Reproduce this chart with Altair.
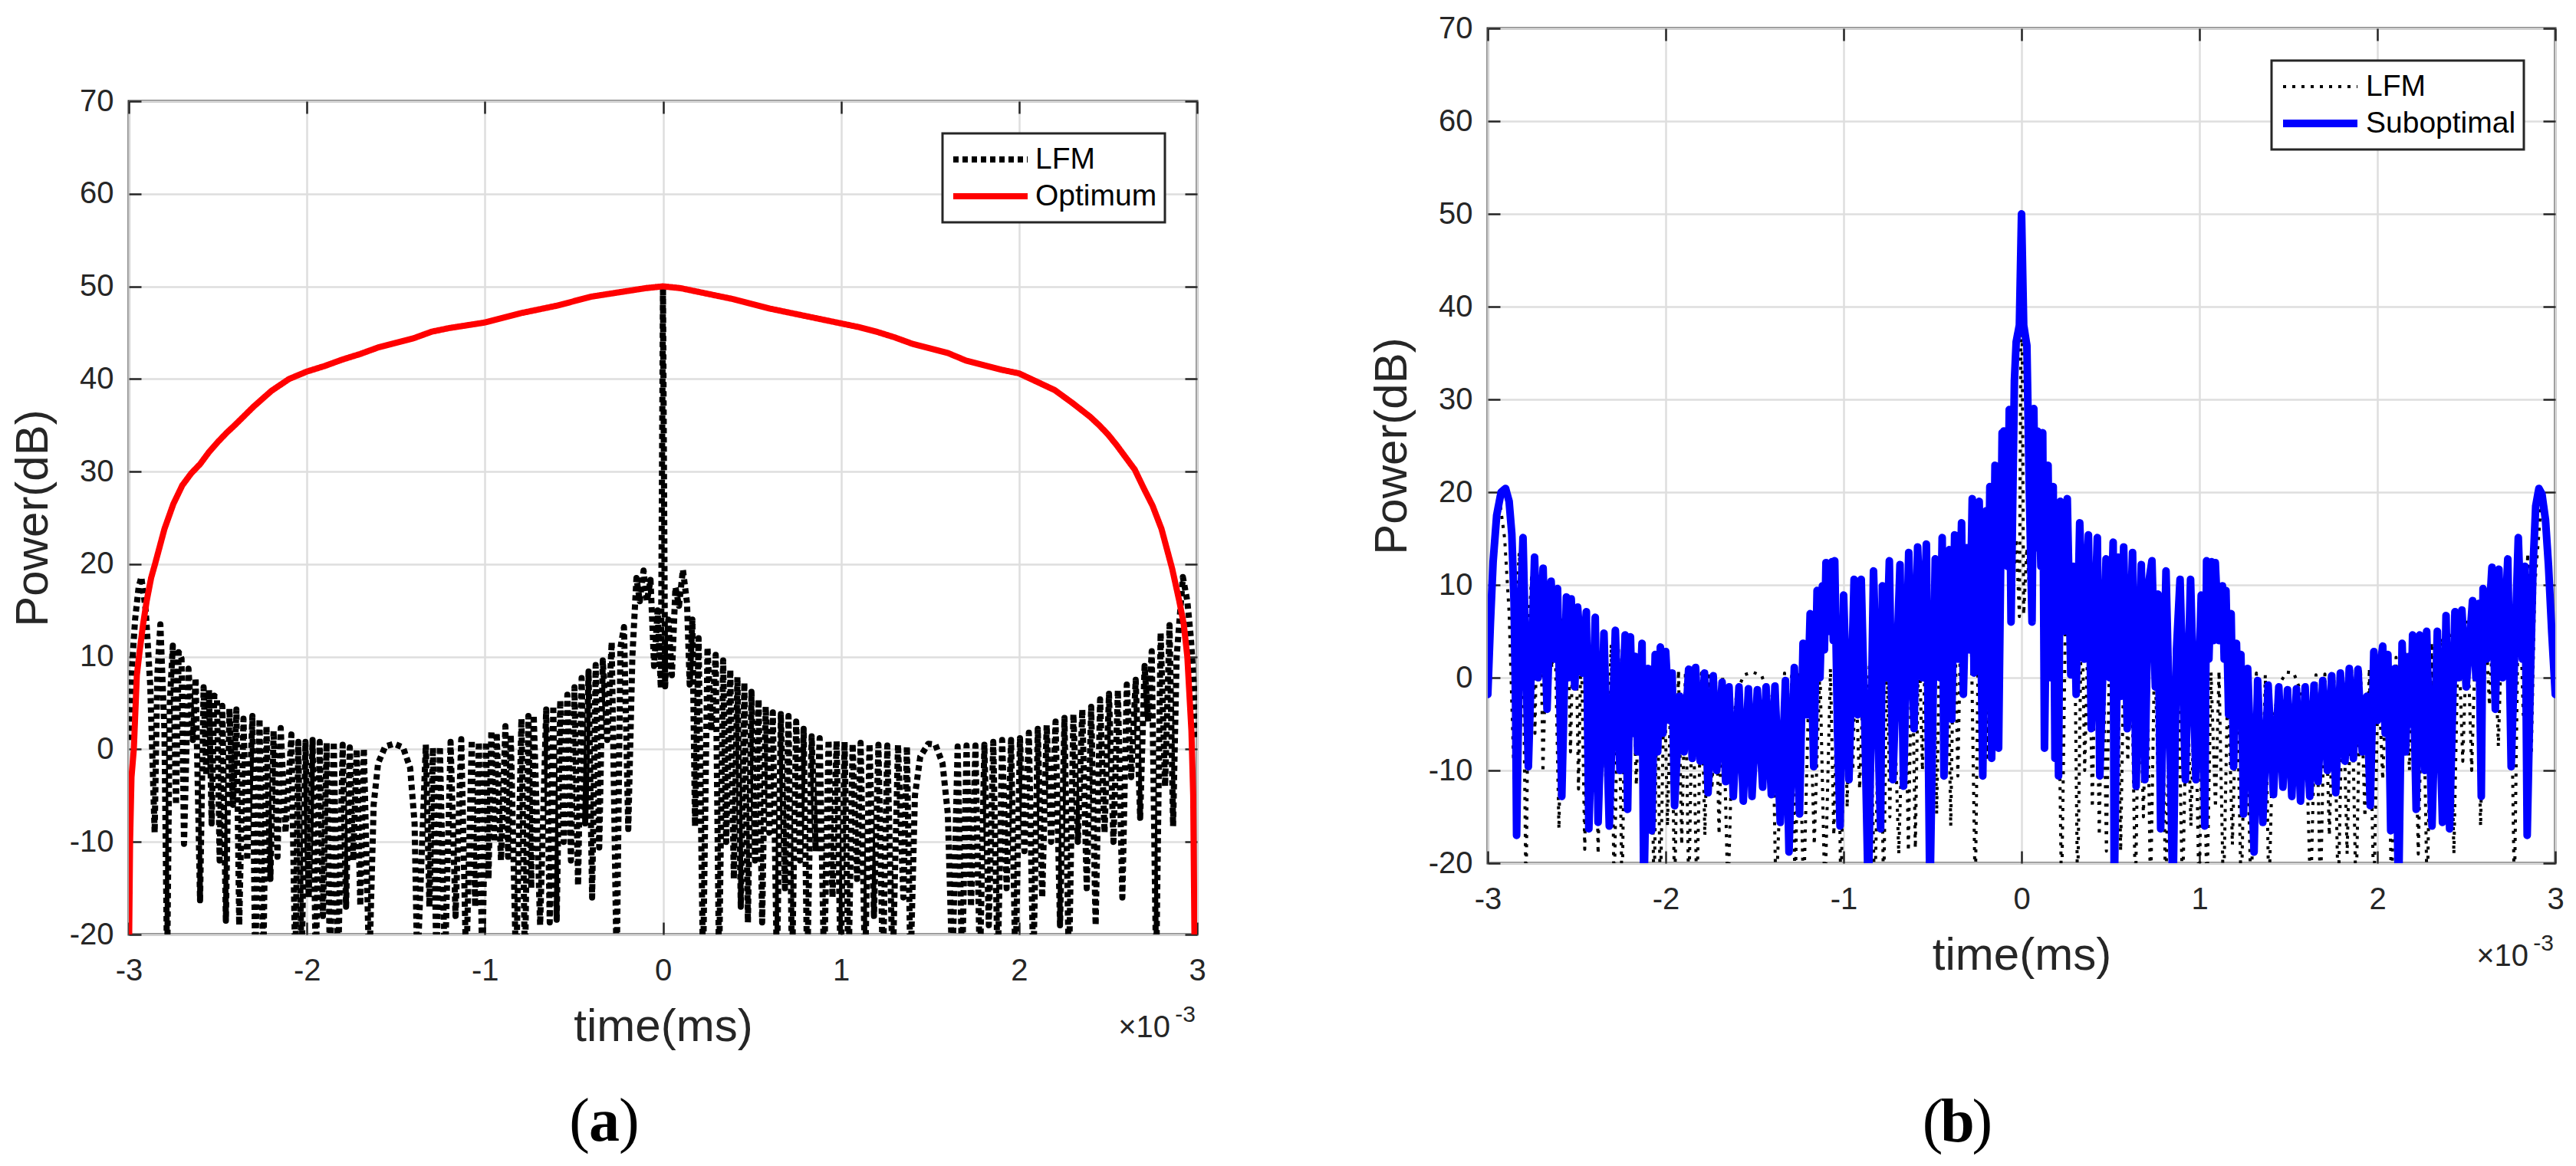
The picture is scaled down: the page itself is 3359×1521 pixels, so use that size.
import altair as alt
import pandas as pd

FONT = "Liberation Sans"
SERIF = "Liberation Serif"
INK = "#262626"
GRID = "#dedede"

# ---------------- data ----------------
x_ticks = [-3, -2, -1, 0, 1, 2, 3]
y_ticks = [-20, -10, 0, 10, 20, 30, 40, 50, 60, 70]
x_domain = [-3, 3]
y_domain = [-20, 70]

# LFM matched-filter output (time in units of 1e-3, power in dB), t <= 0
lfm_t_neg = [-3.000, -2.985, -2.965, -2.945, -2.930, -2.905, -2.880, -2.855, -2.840, -2.823,
             -2.800, -2.785, -2.770, -2.753, -2.735, -2.720, -2.704, -2.690, -2.665, -2.640,
             -2.625, -2.600, -2.580, -2.565, -2.550, -2.535, -2.520, -2.505, -2.490, -2.475,
             -2.455, -2.435, -2.415, -2.396, -2.380, -2.356, -2.335, -2.306, -2.290, -2.266,
             -2.245, -2.227, -2.205, -2.187, -2.165, -2.147, -2.120, -2.087, -2.065, -2.048,
             -2.030, -2.008, -1.990, -1.968, -1.950, -1.928, -1.910, -1.889, -1.870, -1.849,
             -1.825, -1.799, -1.780, -1.759, -1.740, -1.720, -1.700, -1.680, -1.650, -1.625,
             -1.600, -1.560, -1.510, -1.460, -1.420, -1.395, -1.380, -1.332, -1.312, -1.292,
             -1.272, -1.253, -1.225, -1.193, -1.165, -1.133, -1.105, -1.074, -1.055, -1.034,
             -1.015, -0.994, -0.980, -0.964, -0.948, -0.934, -0.910, -0.885, -0.870, -0.855,
             -0.825, -0.795, -0.775, -0.756, -0.740, -0.726, -0.690, -0.656, -0.636, -0.616,
             -0.597, -0.577, -0.557, -0.537, -0.517, -0.497, -0.477, -0.457, -0.437, -0.418,
             -0.398, -0.378, -0.358, -0.338, -0.313, -0.288, -0.260, -0.239, -0.219, -0.195,
             -0.172, -0.149, -0.130, -0.109, -0.090, -0.070, -0.050, -0.030, -0.012, 0.000]
lfm_db_neg = [1.0, 8.0, 14.0, 17.5, 18.6, 15.0, 7.0, -9.0, 8.0, 13.5,
              2.0, -24, 5.0, 11.2, -6.0, 10.5, 9.8, -10.2, 8.7, 1.0,
              7.7, -16.3, 6.7, -2.8, 6.4, -8.0, 5.8, 5.5, -12.0, 4.7,
              -18.5, 4.4, -6.0, 4.3, -19.0, 3.3, -12.0, 3.6, -24, 3.3,
              -24, 2.5, -14.0, 2.0, -11.6, 2.3, -9.0, 1.6, -24, 0.8,
              -24, 0.8, -16.0, 1.0, -24, 0.8, -18.0, 0.7, -24, 0.8,
              -24, 0.5, -17.0, 0.2, -12.0, 0.0, -16.9, 0.1, -24, -6.0,
              -1.5, 0.3, 0.6, 0.2, -2.0, -8.0, -24, 0.5, -17.0, 0.2,
              -24, 0.3, -24, 0.8, -18.0, 1.1, -24, 1.0, -17.0, 0.8,
              -24, 0.8, -14.0, 2.0, -10.0, 1.8, -12.0, 2.5, -11.6, 1.6,
              -24, 3.3, -24, 3.6, -15.0, 3.7, -19.0, 4.3, -18.7, 4.7,
              -18.4, 5.3, -10.0, 5.9, -12.0, 6.7, -14.7, 7.7, -8.0, 8.4,
              -16.0, 9.1, -10.6, 9.6, 1.0, 11.6, -24, 11.0, 13.2, -8.6,
              10.0, 18.5, 16.0, 19.3, 16.0, 18.3, 9.0, 15.0, 6.6, 50.0]

# LFM, t > 0
lfm_t_pos = [0.012, 0.030, 0.050, 0.070, 0.090, 0.112, 0.135, 0.150, 0.165, 0.180,
             0.200, 0.225, 0.250, 0.272, 0.296, 0.315, 0.338, 0.355, 0.378, 0.398,
             0.418, 0.437, 0.457, 0.477, 0.497, 0.517, 0.537, 0.557, 0.577, 0.597,
             0.617, 0.640, 0.662, 0.685, 0.705, 0.725, 0.748, 0.770, 0.790, 0.810,
             0.835, 0.858, 0.880, 0.905, 0.930, 0.952, 0.975, 0.998, 1.020, 1.042,
             1.065, 1.090, 1.110, 1.135, 1.160, 1.185, 1.210, 1.235, 1.260, 1.290,
             1.320, 1.350, 1.370, 1.390, 1.415, 1.445, 1.490, 1.530, 1.570, 1.600,
             1.625, 1.655, 1.680, 1.705, 1.730, 1.755, 1.780, 1.805, 1.830, 1.855,
             1.880, 1.905, 1.930, 1.955, 1.980, 2.005, 2.030, 2.055, 2.080, 2.105,
             2.130, 2.155, 2.180, 2.205, 2.230, 2.255, 2.280, 2.305, 2.330, 2.355,
             2.380, 2.405, 2.430, 2.455, 2.480, 2.505, 2.530, 2.555, 2.580, 2.605,
             2.630, 2.655, 2.680, 2.705, 2.725, 2.745, 2.770, 2.795, 2.820, 2.845,
             2.865, 2.885, 2.920, 2.945, 2.965, 2.985, 3.000]
lfm_db_pos = [6.8, 14.0, 8.0, 17.5, 15.5, 19.4, 15.8, 7.0, 14.0, -8.3,
              12.0, -24, 11.0, 2.0, 10.2, -24, 9.6, -10.0, 8.6, -14.0,
              7.8, -17.0, 7.2, -18.7, 6.2, -12.0, 5.4, -18.7, 4.6, -9.0,
              4.0, -24, 3.8, -15.0, 3.6, -24, 3.0, -12.0, 2.2, -24,
              1.4, -11.0, 1.2, -24, 1.0, -16.0, 0.9, -24, 0.8, -24,
              0.6, -14.0, 0.7, -24, 0.6, -18.0, 0.5, -24, 0.4, -24,
              0.5, -16.0, 0.3, -24, -5.0, -0.8, 0.6, 0.5, -1.5, -7.0,
              -24, 0.3, -24, 0.4, -17.0, 0.4, -24, 0.5, -19.0, 0.8,
              -24, 1.0, -15.0, 1.0, -24, 1.2, -11.0, 1.8, -24, 2.2,
              -16.0, 2.6, -10.0, 3.0, -19.0, 3.4, -24, 3.8, -10.0, 4.3,
              -15.0, 4.6, -19.0, 5.4, -9.0, 6.0, -10.0, 6.4, -16.0, 7.0,
              -3.0, 7.5, -7.4, 9.0, 3.0, 10.6, -24, 12.6, -4.0, 13.4,
              -8.3, 10.0, 18.6, 16.0, 12.0, 6.0, 1.0]

# Optimum filter output (smooth red curve)
opt_t = [-3.000, -2.993, -2.985, -2.972, -2.955, -2.940, -2.920, -2.900, -2.875, -2.853,
         -2.800, -2.750, -2.700, -2.650, -2.600, -2.550, -2.500, -2.450, -2.400, -2.300,
         -2.200, -2.100, -2.000, -1.900, -1.800, -1.700, -1.600, -1.500, -1.400, -1.300,
         -1.200, -1.100, -1.000, -0.900, -0.800, -0.700, -0.600, -0.500, -0.400, -0.300,
         -0.200, -0.100, 0.000, 0.100, 0.200, 0.300, 0.400, 0.500, 0.600, 0.700,
         0.800, 0.900, 1.000, 1.100, 1.200, 1.300, 1.400, 1.500, 1.600, 1.700,
         1.800, 1.900, 2.000, 2.100, 2.200, 2.300, 2.400, 2.450, 2.500, 2.550,
         2.600, 2.650, 2.700, 2.750, 2.800, 2.860, 2.900, 2.925, 2.945, 2.968,
         2.978, 2.985, 2.990]
opt_db = [-24, -10.0, -3.0, 0.0, 8.0, 10.5, 13.5, 16.0, 18.5, 20.0,
          23.8, 26.5, 28.5, 29.8, 30.8, 32.1, 33.2, 34.2, 35.1, 37.0,
          38.7, 40.0, 40.8, 41.4, 42.1, 42.7, 43.4, 43.9, 44.4, 45.1,
          45.5, 45.8, 46.1, 46.6, 47.1, 47.5, 47.9, 48.4, 48.9, 49.2,
          49.5, 49.8, 50.0, 49.8, 49.4, 49.0, 48.6, 48.1, 47.6, 47.2,
          46.8, 46.4, 46.0, 45.6, 45.1, 44.5, 43.8, 43.3, 42.8, 42.0,
          41.5, 41.0, 40.6, 39.7, 38.8, 37.4, 35.9, 35.0, 34.0, 32.8,
          31.5, 30.2, 28.2, 26.3, 23.8, 19.5, 16.0, 13.5, 10.0, 2.0,
          -5.0, -20.0, -24]

# Suboptimal filter output (blue), t <= 0
sub_t_neg = [-3.000, -2.985, -2.970, -2.950, -2.925, -2.900, -2.880, -2.865, -2.852, -2.843,
             -2.838, -2.820, -2.802, -2.772, -2.737, -2.717, -2.689, -2.667, -2.644, -2.624,
             -2.608, -2.584, -2.558, -2.545, -2.531, -2.511, -2.495, -2.469, -2.446, -2.432,
             -2.396, -2.380, -2.347, -2.317, -2.283, -2.257, -2.228, -2.214, -2.198, -2.185,
             -2.172, -2.158, -2.133, -2.123, -2.099, -2.079, -2.059, -2.045, -2.030, -2.016,
             -2.000, -1.980, -1.964, -1.950, -1.921, -1.897, -1.871, -1.851, -1.832, -1.806,
             -1.782, -1.762, -1.733, -1.713, -1.683, -1.663, -1.644, -1.620, -1.588, -1.564,
             -1.535, -1.515, -1.485, -1.455, -1.436, -1.406, -1.386, -1.356, -1.327, -1.307,
             -1.277, -1.248, -1.228, -1.204, -1.188, -1.168, -1.149, -1.133, -1.119, -1.108,
             -1.099, -1.079, -1.065, -1.058, -1.050, -1.034, -1.020, -1.000, -0.970, -0.941,
             -0.921, -0.901, -0.881, -0.861, -0.832, -0.792, -0.782, -0.762, -0.743, -0.723,
             -0.683, -0.663, -0.634, -0.604, -0.584, -0.558, -0.535, -0.515, -0.485, -0.459,
             -0.446, -0.436, -0.406, -0.392, -0.376, -0.356, -0.337, -0.327, -0.307, -0.292,
             -0.277, -0.267, -0.238, -0.218, -0.198, -0.188, -0.178, -0.168, -0.149, -0.129,
             -0.109, -0.104, -0.099, -0.079, -0.069, -0.059, -0.040, -0.030, -0.012, 0.000]
sub_db_neg = [-1.8, 6.0, 12.5, 17.5, 20.0, 20.4, 19.0, 15.5, 8.0, -4.0,
              -17.0, 5.0, 15.1, -9.6, 13.0, 0.0, 11.8, -3.4, 10.4, 2.0,
              9.6, -12.8, 8.7, 0.0, 8.5, -1.0, 7.6, 0.5, 7.1, -16.3,
              6.5, -15.6, 4.8, -16.0, 5.1, -10.0, 4.6, -14.2, 4.4, -6.0,
              2.3, -8.0, 3.7, -24, 1.0, -16.5, 2.5, -8.0, 3.3, -6.0,
              2.8, -4.6, 0.5, -13.8, -2.0, -8.0, 0.9, -8.7, 1.1, -9.0,
              0.5, -12.4, 0.2, -10.0, -0.5, -11.2, -1.0, -12.8, -1.0, -13.3,
              -1.2, -12.8, -1.3, -11.8, -1.0, -12.6, -0.9, -15.6, -0.3, -18.8,
              1.1, -14.7, 3.7, -4.0, 6.9, -9.6, 9.4, 0.0, 9.9, 3.0,
              12.4, 5.0, 12.5, 4.0, 12.6, -6.0, -16.0, 8.9, -11.0, 10.6,
              -4.0, 10.6, -5.0, -24, 11.5, -16.3, 9.9, 0.0, 12.6, -11.0,
              12.2, -11.7, 13.5, -5.5, 14.1, 0.0, 14.4, -24, 12.8, 0.0,
              15.1, -10.6, 13.8, -4.5, 15.4, 2.0, 16.7, -1.8, 14.0, 3.0,
              19.3, 0.5, 19.0, -10.6, 18.0, 5.0, 20.6, -8.7, 22.9, -7.6,
              26.4, 15.0, 26.6, 12.0, 28.9, 6.0, 32.0, 36.2, 38.0, 50.0]

# Suboptimal, t > 0
sub_t_pos = [0.012, 0.030, 0.044, 0.059, 0.069, 0.079, 0.089, 0.109, 0.119, 0.129,
             0.149, 0.162, 0.178, 0.188, 0.198, 0.208, 0.218, 0.238, 0.257, 0.277,
             0.292, 0.307, 0.327, 0.352, 0.376, 0.392, 0.426, 0.440, 0.475, 0.495,
             0.515, 0.521, 0.545, 0.560, 0.574, 0.594, 0.624, 0.644, 0.673, 0.693,
             0.713, 0.733, 0.752, 0.767, 0.782, 0.812, 0.832, 0.851, 0.871, 0.891,
             0.921, 0.950, 0.980, 1.010, 1.030, 1.040, 1.053, 1.069, 1.079, 1.089,
             1.109, 1.129, 1.139, 1.149, 1.164, 1.178, 1.192, 1.208, 1.218, 1.233,
             1.248, 1.271, 1.307, 1.327, 1.356, 1.386, 1.416, 1.446, 1.469, 1.495,
             1.519, 1.545, 1.568, 1.594, 1.620, 1.644, 1.667, 1.693, 1.719, 1.743,
             1.766, 1.792, 1.818, 1.842, 1.865, 1.891, 1.915, 1.941, 1.960, 1.980,
             2.000, 2.015, 2.030, 2.044, 2.059, 2.075, 2.099, 2.119, 2.139, 2.158,
             2.178, 2.188, 2.198, 2.218, 2.238, 2.267, 2.277, 2.307, 2.337, 2.366,
             2.386, 2.406, 2.436, 2.455, 2.475, 2.499, 2.535, 2.554, 2.569, 2.584,
             2.594, 2.614, 2.644, 2.663, 2.683, 2.703, 2.733, 2.752, 2.792, 2.815,
             2.830, 2.842, 2.860, 2.875, 2.890, 2.908, 2.925, 2.945, 2.962, 2.980,
             3.000]
sub_db_pos = [38.0, 35.8, 20.0, 6.0, 29.0, 14.0, 26.6, 12.0, 26.4, -7.6,
              22.9, 0.0, 20.6, -8.7, 17.0, -10.6, 19.0, 5.0, 19.3, 0.3,
              12.0, -1.8, 16.7, 2.0, 15.4, -5.5, 15.1, -10.6, 12.8, 0.0,
              14.6, -24, 13.0, -2.0, 14.1, -5.5, 13.5, -11.7, 12.2, -11.0,
              10.0, 12.6, -1.0, 9.0, -16.3, 11.5, -5.0, -24, 3.0, 10.6,
              -11.0, 10.6, -11.0, 8.9, -16.0, 12.6, 2.0, 12.5, 4.0, 12.4,
              4.0, 9.9, 2.0, 9.4, -4.0, 6.9, -9.6, 3.7, -4.0, 2.5,
              -14.7, 1.0, -18.8, -0.3, -15.6, -0.8, -12.6, -1.0, -11.8, -1.3,
              -12.8, -1.2, -13.3, -1.0, -12.8, -0.8, -11.2, -0.3, -10.0, 0.2,
              -12.4, 0.5, -9.0, 1.0, -8.7, 0.9, -8.0, -2.0, -13.8, 2.8,
              -4.6, 1.0, 3.4, -6.0, 2.5, -16.5, 1.0, -24, 3.7, -8.0,
              2.3, -5.0, 4.6, -14.2, 4.6, -10.0, 5.0, -16.0, 5.0, -15.6,
              6.7, -16.3, 7.1, 0.0, 7.3, -1.0, 8.3, 0.0, 8.0, -12.8,
              9.6, 2.0, 11.9, -3.4, 11.7, 0.0, 12.8, -9.6, 15.1, 2.0,
              12.0, -17.0, 0.0, 12.0, 18.5, 20.4, 19.8, 17.0, 12.0, 5.0,
              -1.8]

# anchors for the exponent note and the panel captions (data coordinates)
note_t = [3.0]
note_db = [-20.0]
cap_a_t = [-0.33]
cap_b_t = [-0.36]
cap_db = [-20.0]

# ---------------- tables ----------------
lfm_t = lfm_t_neg + lfm_t_pos
lfm_db = lfm_db_neg + lfm_db_pos
sub_t = sub_t_neg + sub_t_pos
sub_db = sub_db_neg + sub_db_pos

lfm_df = pd.DataFrame({"t": lfm_t, "db": lfm_db, "series": ["LFM"] * len(lfm_t)})
opt_df = pd.DataFrame({"t": opt_t, "db": opt_db, "series": ["Optimum"] * len(opt_t)})
sub_df = pd.DataFrame({"t": sub_t, "db": sub_db, "series": ["Suboptimal"] * len(sub_t)})
note_df = pd.DataFrame({"t": note_t, "db": note_db})


def tick_axis(orient, offset, values):
    return alt.Axis(orient=orient, offset=offset, values=values, labels=False, domain=False,
                    grid=False, ticks=True, tickSize=16, tickWidth=2.5, tickColor=INK, title=None)


x_main = alt.Axis(orient="bottom", values=x_ticks, labelExpr="datum.value + ''", labelFlush=False,
                  ticks=False, tickSize=0, domain=False, grid=True, gridColor=GRID, gridWidth=2.5,
                  labelFont=FONT, labelFontSize=40, labelColor=INK, labelPadding=27,
                  title="time(ms)", titleFont=FONT, titleFontSize=60, titleFontWeight="normal",
                  titleColor=INK, titlePadding=24)
y_main = alt.Axis(orient="left", values=y_ticks, labelExpr="datum.value + ''",
                  ticks=False, tickSize=0, domain=False, grid=True, gridColor=GRID, gridWidth=2.5,
                  labelFont=FONT, labelFontSize=40, labelColor=INK, labelPadding=20,
                  title="Power(dB)", titleFont=FONT, titleFontSize=60, titleFontWeight="normal",
                  titleColor=INK, titlePadding=16)


def panel(main_df, main_name, main_color, main_w, lfm_w, lfm_dash, W, H, lx, ly, cap_t, cap_dy, letter):
    xs = alt.Scale(domain=x_domain, nice=False, zero=False)
    ys = alt.Scale(domain=y_domain, nice=False, zero=False)
    dom = ["LFM", main_name]
    leg = alt.Legend(title=None, orient="none", legendX=lx, legendY=ly, direction="vertical",
                     symbolType="stroke", symbolSize=9409, clipHeight=48, rowPadding=0,
                     labelFont=FONT, labelFontSize=39, labelColor="#000000", labelOffset=6,
                     labelLimit=600, padding=10, strokeColor=INK, fillColor="#ffffff",
                     cornerRadius=0)
    style = dict(
        color=alt.Color("series:N", scale=alt.Scale(domain=dom, range=["#000000", main_color]), legend=leg),
        strokeDash=alt.StrokeDash("series:N", scale=alt.Scale(domain=dom, range=[lfm_dash, [1, 0]]), legend=leg),
        strokeWidth=alt.StrokeWidth("series:N", scale=alt.Scale(domain=dom, range=[lfm_w, main_w], padding=0), legend=leg),
    )
    lfm_layer = alt.Chart(lfm_df).mark_line(clip=True, strokeJoin="round", strokeCap="butt").encode(
        x=alt.X("t:Q", scale=xs, axis=x_main),
        y=alt.Y("db:Q", scale=ys, axis=y_main), **style)
    main_layer = alt.Chart(main_df).mark_line(clip=True, strokeJoin="round", strokeCap="round").encode(
        x=alt.X("t:Q", scale=xs, axis=tick_axis("top", -H, x_ticks)),
        y=alt.Y("db:Q", scale=ys, axis=tick_axis("right", -W, y_ticks)), **style)
    times = alt.Chart(note_df).mark_text(text="×10", align="right", baseline="alphabetic", dx=-35, dy=134,
                                         font=FONT, fontSize=40, color=INK).encode(
        x=alt.X("t:Q", scale=xs, axis=tick_axis("bottom", -H, x_ticks)),
        y=alt.Y("db:Q", scale=ys, axis=tick_axis("left", -W, y_ticks)))
    expo = alt.Chart(note_df).mark_text(text="-3", align="right", baseline="alphabetic", dx=-2, dy=114,
                                        font=FONT, fontSize=30, color=INK).encode(
        x=alt.X("t:Q", scale=xs, axis=None), y=alt.Y("db:Q", scale=ys, axis=None))
    cap_df = pd.DataFrame({"t": cap_t, "db": cap_db})
    cap_enc = dict(x=alt.X("t:Q", scale=xs, axis=None), y=alt.Y("db:Q", scale=ys, axis=None))
    c1 = alt.Chart(cap_df).mark_text(text="(", align="right", baseline="alphabetic", dx=-19, dy=cap_dy,
                                     font=SERIF, fontSize=80, color="#000000").encode(**cap_enc)
    c2 = alt.Chart(cap_df).mark_text(text=letter, align="center", baseline="alphabetic", dy=cap_dy,
                                     font=SERIF, fontSize=80, fontWeight="bold", color="#000000").encode(**cap_enc)
    c3 = alt.Chart(cap_df).mark_text(text=")", align="left", baseline="alphabetic", dx=19, dy=cap_dy,
                                     font=SERIF, fontSize=80, color="#000000").encode(**cap_enc)
    return alt.layer(lfm_layer, main_layer, times, expo, c1, c2, c3).resolve_axis(
        x="independent", y="independent").properties(width=W, height=H)


# empty band above panel (a): panel (a) sits lower than panel (b) in the figure
spacer = alt.Chart(note_df).mark_point(opacity=0).encode(
    x=alt.X("t:Q", axis=None), y=alt.Y("db:Q", axis=None)).properties(
    width=1393, height=68, view=alt.ViewBackground(stroke="transparent"))

left_panel = panel(opt_df, "Optimum", "#ff0000", 8, 8, [7, 5], 1393, 1087, 1061, 42, cap_a_t, 269, "a")
left = alt.vconcat(spacer, left_panel, spacing=0).resolve_scale(
    x="independent", y="independent", color="independent", strokeDash="independent",
    strokeWidth="independent").resolve_legend(
    color="independent", strokeDash="independent", strokeWidth="independent")
right = panel(sub_df, "Suboptimal", "#0000ff", 10, 4, [4, 8], 1392, 1089, 1022, 42, cap_b_t, 363, "b")

chart = alt.hconcat(left, right, spacing=209).resolve_scale(
    color="independent", strokeDash="independent", strokeWidth="independent").resolve_legend(
    color="independent", strokeDash="independent", strokeWidth="independent").properties(
    padding={"left": 3, "top": 7, "right": 5, "bottom": 5}).configure_view(
    stroke=INK, strokeWidth=3).configure_legend(strokeWidth=3)

chart.save("out.html", embed_options={"renderer": "svg", "actions": False})
